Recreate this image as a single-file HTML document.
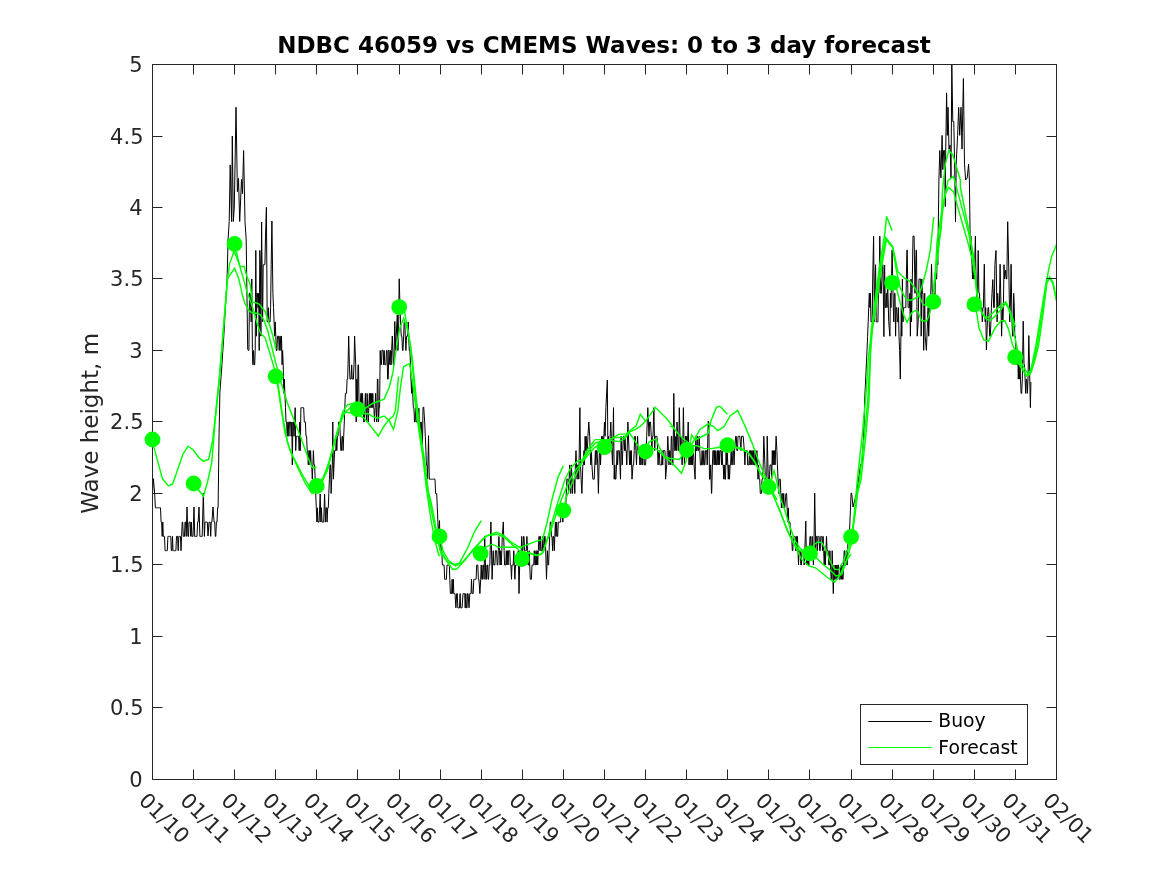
<!DOCTYPE html>
<html><head><meta charset="utf-8"><title>NDBC 46059 vs CMEMS Waves</title>
<style>html,body{margin:0;padding:0;background:#fff;overflow:hidden}svg{display:block;will-change:transform;font-family:"DejaVu Sans","Liberation Sans",sans-serif}</style>
</head><body>
<svg width="1167" height="875" viewBox="0 0 1167 875">
<rect x="0" y="0" width="1167" height="875" fill="#fff"/>
<defs><clipPath id="ax"><rect x="152.5" y="64.5" width="904.0" height="715.0"/></clipPath></defs>
<g clip-path="url(#ax)">
<path d="M152.5 493.5 L153.4 478.7 L154.6 493.0 L155.4 507.8 L155.9 507.8 L156.5 507.8 L157.1 507.8 L157.6 507.8 L158.2 507.8 L158.8 507.8 L159.3 507.8 L159.9 507.8 L160.5 507.8 L161.1 522.1 L161.6 522.1 L162.2 536.4 L162.8 522.1 L163.3 536.4 L163.9 536.4 L164.5 536.4 L165.1 550.7 L165.6 550.7 L166.2 550.7 L166.8 550.7 L167.3 550.7 L167.9 536.4 L168.5 536.4 L169.1 536.4 L169.6 536.4 L170.2 536.4 L170.8 536.4 L171.3 550.7 L171.9 550.7 L172.5 536.4 L173.0 550.7 L173.6 550.7 L174.2 550.7 L174.8 550.7 L175.3 550.7 L175.9 550.7 L176.5 536.4 L177.0 536.4 L177.6 536.4 L178.2 550.7 L178.8 536.4 L179.3 536.4 L179.9 536.4 L180.5 536.4 L181.0 550.7 L181.6 536.4 L182.2 522.1 L182.7 522.1 L183.3 536.4 L183.9 536.4 L184.5 536.4 L185.0 522.1 L185.6 522.1 L186.2 536.4 L187.0 507.0 L187.9 536.4 L188.5 536.4 L189.0 522.1 L189.6 522.1 L190.2 522.1 L190.7 536.4 L191.3 522.1 L191.9 536.4 L192.4 536.4 L193.0 536.4 L194.0 507.0 L194.7 536.4 L195.3 536.4 L195.9 536.4 L196.4 536.4 L197.0 536.4 L197.6 522.1 L198.2 522.1 L199.0 507.0 L199.9 536.4 L200.4 536.4 L201.0 536.4 L201.6 536.4 L202.2 536.4 L203.3 493.0 L204.4 536.4 L205.0 522.1 L205.6 522.1 L206.1 522.1 L206.7 522.1 L207.3 522.1 L208.0 536.0 L209.0 522.1 L209.6 522.1 L210.1 522.1 L210.7 536.4 L211.3 522.1 L211.9 522.1 L213.0 507.0 L214.1 522.1 L214.7 522.1 L215.3 536.4 L215.8 536.4 L216.4 522.1 L217.0 522.1 L217.6 507.8 L218.1 507.8 L219.0 437.0 L219.9 392.5 L222.0 363.7 L224.0 332.9 L225.5 306.0 L227.1 278.0 L228.1 239.0 L229.2 221.5 L230.2 164.9 L231.6 221.5 L232.3 136.1 L233.3 221.5 L234.3 207.1 L236.0 107.3 L237.4 191.7 L238.5 178.5 L239.7 221.5 L241.5 179.3 L242.5 193.7 L243.6 150.5 L245.0 221.5 L246.2 240.0 L247.7 349.3 L248.4 350.5 L248.9 350.5 L249.5 293.3 L250.1 293.3 L250.7 307.6 L251.2 321.9 L251.8 279.0 L252.4 350.5 L252.9 364.8 L253.5 350.5 L254.1 364.8 L254.7 364.8 L255.2 350.5 L255.8 250.4 L256.4 336.2 L256.9 293.3 L257.5 293.3 L258.1 307.6 L258.7 293.3 L259.2 350.5 L259.8 250.4 L260.4 264.7 L260.9 336.2 L261.6 222.0 L262.6 321.9 L263.2 264.7 L263.8 264.7 L264.4 264.7 L264.9 264.7 L265.5 236.1 L266.4 207.3 L267.2 321.9 L267.8 321.9 L268.4 307.6 L268.9 321.9 L269.5 321.9 L270.1 321.9 L270.6 307.6 L271.2 264.7 L271.9 221.0 L272.9 293.3 L273.5 307.6 L274.1 321.9 L274.6 336.2 L275.2 321.9 L275.8 336.2 L276.3 350.5 L276.9 350.5 L277.5 336.2 L278.1 336.2 L278.6 336.2 L279.2 350.5 L279.8 336.2 L280.3 336.2 L280.9 350.5 L281.5 336.2 L282.1 364.8 L282.6 350.5 L283.2 364.8 L283.8 393.4 L284.3 379.1 L284.9 393.4 L285.5 407.7 L286.0 422.0 L286.6 422.0 L287.2 436.3 L287.8 422.0 L288.3 422.0 L288.9 436.3 L289.5 422.0 L290.0 422.0 L290.6 422.0 L291.2 436.3 L291.8 422.0 L292.3 464.9 L292.9 422.0 L293.5 422.0 L294.0 436.3 L294.6 422.0 L295.2 407.7 L295.7 450.6 L296.3 436.3 L296.9 436.3 L297.5 436.3 L298.0 436.3 L298.6 436.3 L299.2 450.6 L299.7 422.0 L300.3 450.6 L300.9 407.7 L301.5 407.7 L302.0 407.7 L302.6 407.7 L303.2 407.7 L303.7 407.7 L304.3 422.0 L304.9 422.0 L305.4 422.0 L306.0 436.3 L306.6 436.3 L307.2 450.6 L307.7 450.6 L308.3 464.9 L308.9 450.6 L309.4 450.6 L310.0 464.9 L310.6 450.6 L311.2 464.9 L311.7 464.9 L312.3 479.2 L312.9 464.9 L313.4 450.6 L314.0 464.9 L314.6 464.9 L315.2 479.2 L315.7 493.5 L316.3 507.8 L316.9 522.1 L317.4 507.8 L318.0 522.1 L318.6 522.1 L319.1 522.1 L320.2 494.0 L320.9 522.1 L321.4 507.8 L322.0 522.1 L322.6 522.1 L323.1 522.1 L323.7 522.1 L324.6 494.0 L325.4 522.1 L326.0 507.8 L326.6 507.8 L327.1 522.1 L327.7 507.8 L328.3 507.8 L328.8 493.5 L329.4 479.2 L330.0 464.9 L330.6 464.9 L331.1 493.5 L331.7 479.2 L332.3 464.9 L332.8 422.0 L333.4 479.2 L334.0 464.9 L334.6 450.6 L335.1 450.6 L335.7 450.6 L336.3 436.3 L336.8 450.6 L337.4 436.3 L338.0 436.3 L338.6 422.0 L339.1 422.0 L339.7 422.0 L340.3 436.3 L340.8 450.6 L341.4 450.6 L342.0 436.3 L342.5 436.3 L343.1 450.6 L343.7 436.3 L344.3 422.0 L344.8 407.7 L345.4 393.4 L346.0 393.4 L346.5 393.4 L347.1 379.1 L347.7 379.1 L348.7 336.0 L349.4 364.8 L350.0 379.1 L350.5 379.1 L351.1 379.1 L351.7 364.8 L352.2 379.1 L352.8 379.1 L353.4 379.1 L354.0 364.8 L354.6 336.0 L355.7 364.8 L356.2 422.0 L356.8 379.1 L357.4 407.7 L358.0 364.8 L358.5 364.8 L359.1 407.7 L359.7 407.7 L360.2 407.7 L360.8 393.4 L361.4 393.4 L361.9 407.7 L362.5 393.4 L363.1 407.7 L363.7 422.0 L364.2 422.0 L364.8 407.7 L365.4 393.4 L365.9 407.7 L366.5 422.0 L367.1 393.4 L367.7 407.7 L368.2 422.0 L368.8 407.7 L369.4 393.4 L369.9 407.7 L370.5 393.4 L371.1 407.7 L371.7 393.4 L372.2 407.7 L372.8 393.4 L373.4 407.7 L373.9 407.7 L374.5 422.0 L375.1 407.7 L375.6 393.4 L376.2 407.7 L376.8 422.0 L377.4 379.1 L377.9 379.1 L378.5 422.0 L379.1 407.7 L379.6 407.7 L380.2 350.5 L380.8 364.8 L381.4 364.8 L382.0 350.0 L383.1 350.5 L383.6 364.8 L384.2 350.5 L384.8 364.8 L385.3 364.8 L385.9 364.8 L386.5 350.5 L387.1 350.5 L387.6 379.1 L388.2 379.1 L388.9 350.0 L389.9 364.8 L390.5 350.5 L391.1 364.8 L391.6 350.5 L392.3 336.0 L393.3 364.8 L393.9 364.8 L394.8 321.5 L395.6 350.5 L396.2 336.2 L397.3 315.0 L397.9 350.5 L398.5 336.2 L399.2 278.8 L400.5 322.8 L401.3 336.2 L401.9 336.2 L402.5 350.5 L403.0 350.5 L403.6 336.2 L404.2 321.9 L404.8 321.9 L405.3 336.2 L405.9 350.5 L406.5 336.2 L407.0 336.2 L407.6 336.2 L408.2 321.9 L408.7 336.2 L409.3 350.5 L409.9 350.5 L410.5 364.8 L411.0 379.1 L411.6 393.4 L412.2 379.1 L412.7 393.4 L413.3 407.7 L413.9 407.7 L414.5 422.0 L415.0 422.0 L415.6 407.7 L416.2 422.0 L416.7 422.0 L417.3 422.0 L417.9 422.0 L418.9 408.2 L419.6 436.3 L420.2 436.3 L420.7 422.0 L421.3 422.0 L421.9 436.3 L422.4 450.6 L423.0 407.7 L423.7 406.9 L424.7 422.0 L425.3 436.3 L425.9 450.6 L426.4 464.9 L427.0 464.9 L427.6 479.2 L428.5 435.7 L429.3 479.2 L429.9 479.2 L430.4 479.2 L431.0 479.2 L431.6 479.2 L432.1 479.2 L432.7 479.2 L433.3 479.2 L434.0 478.9 L435.0 479.2 L435.6 493.5 L436.1 493.5 L436.7 493.5 L437.3 507.8 L437.9 522.1 L438.4 536.4 L439.5 520.6 L440.1 550.7 L440.7 550.7 L441.3 536.4 L441.8 550.7 L442.4 565.0 L443.0 565.0 L443.6 565.0 L444.1 565.0 L444.7 579.3 L445.3 579.3 L445.8 579.3 L446.4 579.3 L447.0 565.0 L447.6 565.0 L448.1 565.0 L448.7 565.0 L449.3 565.0 L449.8 579.3 L450.4 593.6 L451.0 593.6 L451.6 593.6 L452.1 579.3 L452.7 593.6 L453.3 579.3 L453.8 593.6 L454.4 593.6 L455.0 593.6 L455.9 607.8 L456.7 593.6 L457.3 593.6 L457.8 607.9 L458.4 607.9 L459.0 607.9 L459.5 607.9 L460.1 593.6 L460.7 607.9 L461.3 607.9 L462.1 607.8 L463.0 593.6 L463.5 593.6 L464.1 593.6 L464.7 593.6 L465.2 607.9 L465.8 593.6 L466.4 607.9 L467.0 607.9 L467.5 593.6 L468.1 593.6 L469.0 607.8 L469.8 593.6 L470.4 593.6 L471.0 593.6 L471.5 579.3 L472.1 593.6 L472.7 593.6 L473.2 593.6 L473.8 579.3 L474.4 579.3 L474.9 579.3 L475.5 579.3 L476.1 579.3 L476.7 565.0 L477.2 565.0 L477.8 565.0 L478.4 579.3 L478.9 579.3 L479.9 593.5 L480.7 579.3 L481.2 565.0 L481.8 579.3 L482.4 579.3 L482.9 565.0 L483.5 565.0 L484.1 579.3 L484.7 536.3 L485.8 579.3 L486.4 579.3 L486.9 565.0 L487.5 565.0 L488.1 579.3 L488.6 579.3 L489.2 565.0 L489.8 565.0 L490.9 521.9 L492.1 579.3 L492.6 565.0 L493.2 550.7 L493.8 565.0 L494.4 565.0 L494.9 565.0 L495.5 550.7 L496.1 550.7 L496.6 550.7 L497.2 565.0 L497.8 565.0 L498.3 550.7 L498.9 536.4 L499.5 550.7 L500.1 565.0 L500.6 550.7 L501.2 565.0 L501.8 550.7 L502.3 536.4 L503.3 521.9 L504.1 550.7 L504.6 565.0 L505.2 565.0 L505.8 565.0 L506.3 550.7 L506.9 565.0 L507.5 550.7 L508.1 565.0 L508.6 550.7 L509.2 550.7 L509.8 550.7 L510.3 565.0 L510.9 565.0 L511.5 579.3 L512.0 565.0 L512.6 565.0 L513.2 565.0 L513.8 550.7 L514.3 565.0 L514.9 579.3 L515.5 565.0 L516.0 565.0 L516.6 565.0 L517.2 565.0 L517.8 565.0 L518.3 550.7 L519.0 593.5 L520.0 550.7 L520.6 550.7 L521.2 550.7 L521.7 536.4 L522.3 550.7 L522.9 550.7 L523.5 536.4 L524.0 536.4 L524.6 550.7 L525.2 550.7 L525.7 550.7 L526.3 550.7 L526.9 536.4 L527.5 550.7 L528.0 565.0 L528.6 565.0 L529.2 550.7 L529.7 565.0 L530.3 579.3 L530.9 579.3 L531.4 579.3 L532.0 565.0 L532.6 565.0 L533.2 565.0 L533.7 565.0 L534.3 550.7 L534.9 565.0 L535.4 565.0 L536.0 550.7 L536.6 565.0 L537.2 550.7 L537.7 565.0 L538.3 550.7 L538.9 536.4 L539.4 536.4 L540.0 550.7 L540.6 536.4 L541.2 550.7 L541.7 550.7 L542.3 550.7 L542.9 536.4 L543.4 550.7 L544.0 550.7 L544.6 536.4 L545.1 536.4 L545.7 550.7 L546.5 579.3 L547.4 550.7 L548.0 565.0 L548.6 565.0 L549.1 550.7 L549.7 536.4 L550.3 522.1 L550.9 522.1 L551.4 536.4 L552.0 536.4 L552.6 550.7 L553.1 536.4 L553.7 536.4 L554.3 550.7 L554.8 536.4 L555.4 522.1 L556.0 536.4 L556.6 522.1 L557.1 536.4 L557.7 536.4 L558.3 522.1 L558.8 522.1 L559.4 522.1 L560.0 522.1 L560.6 522.1 L561.1 507.8 L561.7 507.8 L562.3 507.8 L562.8 522.1 L563.4 507.8 L564.0 507.8 L564.6 507.8 L565.1 507.8 L565.7 507.8 L566.3 493.5 L566.8 479.2 L567.4 479.2 L568.0 479.2 L568.5 493.5 L569.1 479.2 L569.7 464.9 L570.3 479.2 L570.8 493.5 L571.4 464.9 L572.0 479.2 L572.5 493.5 L573.1 479.2 L573.7 479.2 L574.3 479.2 L574.8 493.5 L575.4 464.9 L576.0 450.6 L576.5 464.9 L577.1 479.2 L577.7 464.9 L578.2 464.9 L578.8 479.2 L579.9 407.7 L580.5 464.9 L581.1 479.2 L581.9 493.4 L582.8 464.9 L583.4 464.9 L584.0 450.6 L584.5 464.9 L585.1 436.3 L585.7 450.6 L586.2 436.3 L586.8 450.6 L587.4 450.6 L587.9 436.3 L588.8 422.0 L589.7 436.3 L590.2 450.6 L590.8 464.9 L591.4 450.6 L591.9 464.9 L592.9 479.2 L593.7 479.2 L594.2 479.2 L594.8 464.9 L595.4 450.6 L595.9 464.9 L596.5 450.6 L597.1 450.6 L597.7 464.9 L598.4 493.4 L599.4 450.6 L599.9 450.6 L600.5 464.9 L601.1 450.6 L601.6 436.3 L602.2 450.6 L602.8 436.3 L603.4 450.6 L603.9 436.3 L604.5 422.0 L605.1 436.3 L605.9 407.7 L607.3 380.0 L607.9 450.6 L608.5 436.3 L609.1 450.6 L609.6 450.6 L610.2 436.3 L610.8 422.0 L611.3 436.3 L611.9 450.6 L612.5 464.9 L613.5 407.7 L614.2 479.2 L614.8 464.9 L615.3 479.2 L615.9 479.2 L616.5 464.9 L617.1 450.6 L617.6 464.9 L618.2 450.6 L618.8 450.6 L619.3 450.6 L619.9 464.9 L620.5 479.2 L621.1 436.3 L621.6 450.6 L622.2 464.9 L622.8 450.6 L623.3 436.3 L623.9 436.3 L624.5 450.6 L625.0 436.3 L625.6 450.6 L626.2 450.6 L626.8 464.9 L627.9 422.0 L629.0 450.6 L629.6 464.9 L630.2 450.6 L630.8 464.9 L631.3 450.6 L632.0 479.2 L633.0 464.9 L633.6 464.9 L634.2 450.6 L634.7 436.3 L635.3 436.3 L635.9 450.6 L636.5 464.9 L637.0 450.6 L637.6 436.3 L638.2 450.6 L638.7 450.6 L639.3 450.6 L639.9 464.9 L640.5 450.6 L641.0 464.9 L641.6 450.6 L642.2 450.6 L642.7 464.9 L643.3 450.6 L643.9 450.6 L644.4 464.9 L645.0 464.9 L645.6 464.9 L646.2 450.6 L646.7 436.3 L647.8 407.7 L648.4 422.0 L649.0 436.3 L649.6 422.0 L650.5 422.0 L651.3 436.3 L651.9 450.6 L652.4 436.3 L653.0 436.3 L653.9 407.7 L654.7 450.6 L655.3 436.3 L655.9 436.3 L656.4 436.3 L657.0 436.3 L657.6 450.6 L658.1 464.9 L658.7 450.6 L659.3 450.6 L659.9 464.9 L660.4 464.9 L661.0 464.9 L661.6 464.9 L662.1 450.6 L662.7 464.9 L663.3 450.6 L663.9 450.6 L664.4 450.6 L665.0 450.6 L665.6 479.2 L666.7 464.9 L667.3 450.6 L667.8 436.3 L668.4 450.6 L669.0 464.9 L669.6 450.6 L670.1 450.6 L670.7 464.9 L671.3 436.3 L671.8 436.3 L672.4 464.9 L673.0 464.9 L673.8 393.4 L674.7 450.6 L675.3 450.6 L675.8 436.3 L676.4 450.6 L677.0 422.0 L677.6 436.3 L678.1 450.6 L678.7 450.6 L679.3 407.7 L680.4 450.6 L681.0 436.3 L681.5 450.6 L682.1 464.9 L682.7 450.6 L683.4 407.7 L684.4 464.9 L685.0 450.6 L685.5 436.3 L686.1 450.6 L686.7 436.3 L687.3 450.6 L688.2 422.0 L689.0 464.9 L689.5 450.6 L690.1 464.9 L690.7 450.6 L691.2 464.9 L691.8 450.6 L692.4 464.9 L693.0 450.6 L693.5 450.6 L694.1 464.9 L695.1 479.2 L695.8 436.3 L696.4 450.6 L697.0 450.6 L697.5 436.3 L698.1 450.6 L698.7 450.6 L699.2 436.3 L699.8 450.6 L700.4 464.9 L700.9 464.9 L701.5 464.9 L702.1 450.6 L702.7 464.9 L703.2 464.9 L703.8 450.6 L704.4 464.9 L704.9 464.9 L705.5 450.6 L706.1 450.6 L706.7 450.6 L707.2 464.9 L708.2 421.1 L708.8 422.0 L709.5 479.2 L710.1 479.2 L710.7 464.9 L711.5 493.4 L711.7 493.4 L712.4 464.9 L712.9 450.6 L713.5 450.6 L714.1 464.9 L714.6 450.6 L715.2 464.9 L715.8 450.6 L716.4 464.9 L716.9 464.9 L717.5 450.6 L718.1 464.9 L718.6 450.6 L719.2 464.9 L719.8 450.6 L720.4 450.6 L720.9 450.6 L721.5 464.9 L722.1 450.6 L722.6 464.9 L723.2 464.9 L723.8 479.2 L724.3 464.9 L724.9 479.2 L725.5 479.2 L726.1 450.6 L726.6 464.9 L727.2 450.6 L727.8 464.9 L728.3 479.2 L728.9 464.9 L729.5 479.2 L730.1 464.9 L730.6 464.9 L731.2 450.6 L731.8 464.9 L732.3 464.9 L732.9 450.6 L733.5 450.6 L734.1 464.9 L734.6 450.6 L735.7 436.2 L736.3 436.3 L736.9 450.6 L737.5 450.6 L738.0 436.3 L738.6 436.3 L739.8 436.2 L740.9 450.6 L741.5 436.3 L742.0 436.3 L743.2 436.2 L744.3 450.6 L744.9 464.9 L745.5 450.6 L746.0 450.6 L746.6 450.6 L747.2 450.6 L747.7 464.9 L748.3 464.9 L748.9 464.9 L749.5 450.6 L750.0 464.9 L750.6 450.6 L751.2 464.9 L751.7 450.6 L752.3 450.6 L752.9 464.9 L753.5 450.6 L754.0 464.9 L754.6 464.9 L755.2 450.6 L755.7 464.9 L756.3 464.9 L756.9 450.6 L757.4 464.9 L758.0 479.2 L758.6 464.9 L759.2 479.2 L759.7 479.2 L760.3 493.4 L761.4 493.5 L762.0 479.2 L762.6 479.2 L763.2 464.9 L763.8 436.2 L764.9 464.9 L765.4 479.2 L766.0 479.2 L766.6 493.5 L767.2 436.2 L768.3 479.2 L768.9 479.2 L769.4 479.2 L770.0 464.9 L770.6 464.9 L771.1 464.9 L771.7 479.2 L772.3 450.6 L772.9 464.9 L773.4 450.6 L774.0 464.9 L774.6 450.6 L775.1 464.9 L776.1 436.2 L776.9 450.6 L777.4 464.9 L778.0 479.2 L778.6 493.5 L779.1 479.2 L779.7 479.2 L780.3 479.2 L780.8 493.5 L781.4 507.8 L782.0 493.5 L782.6 493.5 L783.1 507.8 L783.7 493.5 L784.3 507.8 L784.8 507.8 L785.9 493.7 L786.6 493.5 L787.1 507.8 L787.7 522.1 L788.3 507.8 L788.8 522.1 L789.4 522.1 L790.0 522.1 L790.6 536.4 L791.1 536.4 L791.7 536.4 L792.3 550.7 L792.8 550.7 L793.4 536.4 L794.0 536.4 L794.5 536.4 L795.1 536.4 L795.7 550.7 L796.3 536.4 L796.8 550.7 L797.4 536.4 L798.0 550.7 L798.5 565.0 L799.1 550.7 L799.7 550.7 L800.3 550.7 L800.8 565.0 L801.4 565.0 L802.0 550.7 L802.5 550.7 L803.1 550.7 L803.7 550.7 L804.2 565.0 L804.8 550.7 L805.8 521.1 L806.5 565.0 L807.1 550.7 L807.7 565.0 L808.2 550.7 L808.8 565.0 L809.4 550.7 L810.0 536.4 L810.5 536.4 L811.1 550.7 L811.7 550.7 L812.2 536.4 L812.8 550.7 L813.4 565.0 L813.9 550.7 L814.7 493.0 L815.7 550.7 L816.2 536.4 L816.8 536.4 L817.4 550.7 L817.9 536.4 L818.5 536.4 L819.1 536.4 L819.7 550.7 L820.2 550.7 L820.8 536.4 L821.4 536.4 L821.9 536.4 L822.5 550.7 L823.1 536.4 L823.7 550.7 L824.2 565.0 L824.8 550.7 L825.4 565.0 L825.9 550.7 L826.5 536.4 L827.1 550.7 L827.6 550.7 L828.2 550.7 L828.8 565.0 L829.4 565.0 L829.9 550.7 L830.5 565.0 L831.1 579.3 L831.6 579.3 L832.2 550.7 L833.3 593.6 L833.9 565.0 L834.5 579.3 L835.1 579.3 L835.6 565.0 L836.2 579.3 L836.8 565.0 L837.3 579.3 L837.9 565.0 L838.5 565.0 L839.1 579.3 L839.6 579.3 L840.2 579.3 L840.8 565.0 L841.3 579.3 L841.9 565.0 L842.5 579.3 L843.1 579.3 L843.6 565.0 L844.2 550.7 L844.8 550.7 L845.3 565.0 L845.9 565.0 L846.5 550.7 L847.1 565.0 L847.6 550.7 L848.2 536.4 L848.8 536.4 L849.3 536.4 L849.9 522.1 L850.5 507.8 L851.1 493.0 L851.7 493.3 L853.0 507.0 L856.5 493.3 L858.5 479.5 L860.6 464.5 L861.9 464.5 L863.3 441.1 L864.0 427.4 L864.7 400.0 L867.0 350.5 L867.6 336.2 L868.2 321.9 L868.7 307.6 L869.3 293.3 L869.9 307.6 L870.4 293.3 L871.0 321.9 L871.6 321.9 L872.2 321.9 L872.7 279.0 L873.6 236.2 L874.4 321.9 L875.0 279.0 L875.6 264.7 L876.2 321.9 L876.7 321.9 L877.3 321.9 L877.9 321.9 L878.4 293.3 L879.0 293.3 L879.8 236.2 L880.7 293.3 L881.3 293.3 L881.9 279.0 L882.4 264.7 L883.0 264.7 L883.9 336.6 L884.6 265.0 L885.3 307.6 L885.9 307.6 L886.4 293.3 L887.0 307.6 L887.6 279.0 L888.7 321.5 L889.9 336.2 L890.4 293.3 L891.0 307.6 L892.1 249.9 L893.3 307.6 L893.8 321.9 L894.4 293.3 L895.0 293.3 L895.6 336.2 L896.1 307.6 L896.7 307.6 L897.3 321.9 L897.8 321.9 L898.4 307.6 L899.0 336.2 L899.6 350.5 L900.3 379.1 L901.3 307.6 L901.8 336.2 L902.4 279.0 L903.0 321.9 L903.6 307.6 L904.1 307.6 L904.7 307.6 L905.3 307.6 L905.8 307.6 L906.9 250.5 L907.2 249.9 L908.1 307.6 L908.7 307.6 L909.3 307.6 L909.8 293.3 L910.4 336.2 L911.0 279.0 L911.5 321.9 L912.1 293.3 L913.0 236.1 L914.1 236.2 L915.0 293.3 L916.1 249.9 L916.5 250.5 L917.2 336.2 L918.2 321.5 L919.0 279.0 L919.5 279.0 L920.1 279.0 L920.7 279.0 L921.2 336.2 L921.8 279.0 L922.4 293.3 L923.0 293.3 L923.7 350.3 L924.7 293.3 L925.2 336.2 L926.4 350.3 L927.5 321.9 L928.1 307.6 L928.7 336.2 L929.2 321.9 L929.8 307.6 L930.4 307.6 L931.5 264.2 L932.7 307.6 L933.2 293.3 L933.8 293.3 L934.4 293.3 L934.9 307.6 L935.5 264.7 L936.1 279.0 L936.7 279.0 L937.2 250.4 L937.8 264.7 L938.9 180.0 L939.8 150.5 L940.9 177.9 L942.1 135.4 L942.8 169.7 L943.6 150.5 L944.6 150.5 L945.3 206.6 L945.5 164.2 L946.6 92.9 L947.3 135.4 L948.0 107.3 L949.0 149.1 L950.1 145.0 L951.0 177.9 L951.8 64.5 L952.8 121.7 L953.8 121.7 L954.9 180.0 L955.5 221.7 L956.2 164.2 L957.6 135.4 L958.7 107.3 L959.7 135.4 L961.0 107.3 L962.0 149.1 L963.4 78.5 L964.5 164.2 L965.6 180.0 L967.2 177.9 L968.6 164.2 L969.4 180.0 L970.3 250.4 L970.9 236.1 L971.5 250.4 L972.0 264.7 L972.6 279.0 L973.2 264.7 L973.7 279.0 L974.3 279.0 L975.4 236.1 L976.0 279.0 L976.6 293.3 L977.2 307.6 L978.2 250.5 L978.9 293.3 L979.5 293.3 L980.0 307.6 L980.6 307.6 L981.2 307.6 L981.7 307.6 L982.3 321.9 L982.9 307.6 L983.4 307.6 L984.3 264.2 L985.2 321.9 L985.7 307.6 L986.4 350.0 L987.4 321.9 L988.0 307.6 L988.6 307.6 L989.2 321.9 L989.7 336.2 L990.3 336.2 L990.9 321.9 L991.4 307.6 L992.0 293.3 L992.8 279.6 L993.7 307.6 L994.3 307.6 L994.9 264.7 L996.0 250.5 L997.1 321.9 L997.7 293.3 L998.3 307.6 L998.9 307.6 L999.4 307.6 L1000.1 264.2 L1001.6 336.2 L1002.3 307.6 L1002.9 321.9 L1003.4 307.6 L1004.0 264.7 L1004.6 279.0 L1005.6 270.0 L1006.3 279.0 L1006.8 279.0 L1007.7 221.7 L1008.8 270.0 L1009.7 321.9 L1010.3 307.6 L1011.1 264.2 L1012.0 321.9 L1012.6 336.2 L1013.1 336.2 L1013.7 293.3 L1014.3 307.6 L1014.8 336.2 L1015.4 336.2 L1016.0 350.5 L1016.6 350.5 L1017.1 364.8 L1017.7 350.5 L1018.3 379.1 L1018.8 364.8 L1019.4 379.1 L1020.0 364.8 L1020.5 379.1 L1021.1 393.4 L1021.7 393.4 L1022.3 379.1 L1023.2 321.2 L1024.0 364.8 L1024.5 364.8 L1025.1 379.1 L1025.7 393.4 L1026.3 379.1 L1026.8 379.1 L1027.4 393.4 L1028.0 379.1 L1028.8 335.6 L1030.4 407.6 L1030.9 382.0" stroke="#000" stroke-width="1" fill="none" stroke-linejoin="miter"/>
<path d="M152.5 439.5 L154.1 447.9 L162.4 478.7 L168.5 485.9 L172.7 483.9 L183.0 454.0 L188.1 446.2 L193.2 450.0 L199.4 458.2 L203.5 461.3 L208.7 459.2 L212.8 439.7 L215.9 410.9 L219.0 380.0 L222.5 340.0 L225.0 308.6 L227.3 280.2 L229.6 263.8 L234.1 251.0 L240.1 266.5 L244.2 266.5 L246.9 276.6 L250.1 283.9 L252.5 301.9 L258.8 303.8 L265.1 311.4 L268.9 322.7 L272.7 335.3 L275.8 349.1" stroke="#00ff00" stroke-width="1.45" fill="none"/>
<path d="M193.6 483.5 L198.5 490.0 L203.5 496.2 L207.5 482.0 L211.8 462.3 L215.2 420.0 L219.4 380.0 L223.0 335.0 L225.8 300.0 L227.7 278.4 L234.6 268.3 L238.7 278.4 L242.4 294.8 L244.7 303.0 L248.8 310.4 L252.4 313.1 L257.0 313.3 L260.1 314.5 L263.9 320.2 L267.6 330.2 L271.4 345.3 L275.2 360.4 L277.7 370.5 L280.6 381.0 L287.4 402.9 L294.3 420.8 L301.2 438.6 L308.0 457.8 L312.1 467.4 L316.7 467.4" stroke="#00ff00" stroke-width="1.45" fill="none"/>
<path d="M234.6 244.0 L239.6 265.6 L243.3 278.4 L246.9 291.2 L250.0 300.0 L253.8 311.4 L257.6 325.2 L260.7 333.4 L265.1 337.8 L268.9 350.3 L272.7 362.9 L275.8 374.0 L278.3 385.5 L280.2 400.0 L282.5 415.0 L287.5 442.6 L292.6 456.5 L298.9 470.3 L305.1 482.9 L311.4 492.9 L316.5 487.0 L321.5 482.9 L327.8 469.0 L332.8 447.7 L337.8 430.1 L341.6 420.0 L345.0 412.0 L350.1 412.9 L356.4 414.2 L364.0 418.0 L370.2 425.5 L378.4 436.2 L382.8 428.0 L389.1 419.2 L392.9 416.7 L395.4 410.4 L398.5 376.5" stroke="#00ff00" stroke-width="1.45" fill="none"/>
<path d="M275.8 376.0 L277.8 386.5 L284.7 431.7 L290.2 450.9 L296.0 462.0 L302.0 474.0 L308.0 484.0 L313.0 493.5 L316.9 486.0" stroke="#00ff00" stroke-width="1.45" fill="none"/>
<path d="M316.9 486.0 L322.0 481.0 L327.0 471.0 L333.5 447.0 L338.5 428.0 L342.6 412.0 L347.6 404.7 L352.6 403.5 L357.0 409.0 L364.0 409.0 L372.7 403.5 L384.1 399.1 L389.1 387.8 L392.9 372.7 L395.4 355.0 L399.6 328.6 L403.6 318.3 L407.6 329.7 L410.4 345.7 L413.3 374.3 L415.6 400.0 L419.5 430.5 L423.5 458.0 L427.5 489.0 L430.6 500.0" stroke="#00ff00" stroke-width="1.45" fill="none"/>
<path d="M316.9 484.5 L323.0 478.0 L329.0 462.0 L335.0 440.0 L340.0 423.0 L344.0 413.0 L350.0 408.0 L357.0 409.0 L364.0 414.0 L368.0 413.5 L372.7 416.5 L377.8 418.3 L384.1 416.0 L389.1 420.5 L393.5 429.3 L397.9 410.4 L400.4 387.8 L403.5 367.0 L406.7 364.9 L409.6 363.7 L412.2 380.0 L414.8 400.0 L418.8 430.0 L422.8 457.0 L426.5 489.0 L431.0 520.0 L435.0 541.0 L438.8 555.0 L440.1 556.0" stroke="#00ff00" stroke-width="1.45" fill="none"/>
<path d="M399.6 306.9 L404.7 312.6 L408.7 334.3 L412.1 357.1 L414.4 380.0 L416.4 400.0 L420.2 430.5 L424.2 458.0 L428.0 489.0 L429.2 500.0" stroke="#00ff00" stroke-width="1.45" fill="none"/>
<path d="M430.6 500.0 L434.7 520.6 L438.1 541.1 L441.5 554.9 L448.4 562.4 L453.9 564.5 L459.4 563.1 L467.6 548.0 L474.5 531.5 L481.3 520.6" stroke="#00ff00" stroke-width="1.45" fill="none"/>
<path d="M429.2 500.0 L434.0 523.3 L437.4 539.8 L440.9 550.7 L447.0 561.7 L452.5 569.3 L456.6 569.3 L464.9 560.3 L473.1 549.4 L485.4 536.3 L496.4 532.2 L503.3 535.0 L511.5 542.5 L519.7 547.3 L522.2 548.0" stroke="#00ff00" stroke-width="1.45" fill="none"/>
<path d="M439.5 536.3 L442.9 550.7 L448.4 560.3 L455.3 565.8 L462.1 562.4 L471.7 552.1 L481.3 541.1 L486.8 535.7 L497.8 534.3 L504.6 537.7 L512.9 545.3 L519.7 550.7 L526.6 552.8 L533.4 554.2 L537.5 555.5 L543.0 552.8" stroke="#00ff00" stroke-width="1.45" fill="none"/>
<path d="M543.1 552.8 L549.0 533.1 L554.7 512.6 L559.3 497.7 L565.0 479.4 L570.7 468.0 L577.6 461.1 L582.1 460.0 L588.0 449.0 L595.0 439.6" stroke="#00ff00" stroke-width="1.45" fill="none"/>
<path d="M480.6 553.5 L486.8 546.6 L492.3 544.2 L499.1 547.3 L512.9 547.3 L522.5 546.6 L529.3 543.9 L536.2 541.1 L542.3 539.8" stroke="#00ff00" stroke-width="1.45" fill="none"/>
<path d="M542.4 539.8 L546.7 524.0 L552.4 497.7 L558.1 477.1 L563.3 465.7" stroke="#00ff00" stroke-width="1.45" fill="none"/>
<path d="M521.8 559.0 L527.9 552.1 L536.2 555.5 L541.7 554.2" stroke="#00ff00" stroke-width="1.45" fill="none"/>
<path d="M541.7 554.2 L550.1 533.1 L555.9 514.9 L561.6 498.9 L568.4 482.9 L575.3 470.3 L581.0 463.4 L588.0 452.0 L595.0 443.0" stroke="#00ff00" stroke-width="1.45" fill="none"/>
<path d="M563.9 510.3 L566.1 497.7 L570.7 486.3 L576.4 473.7 L582.1 462.3 L589.0 454.0 L595.0 447.1" stroke="#00ff00" stroke-width="1.45" fill="none"/>
<path d="M595.0 439.6 L601.9 439.6 L608.7 440.3 L619.0 434.1 L625.9 434.1 L630.7 430.0 L636.1 425.9 L640.3 414.2 L645.7 421.4" stroke="#00ff00" stroke-width="1.45" fill="none"/>
<path d="M595.0 443.0 L608.7 439.6 L615.6 437.5 L623.8 437.5 L630.7 431.3 L635.5 429.3 L640.3 426.5 L645.7 421.1 L655.3 407.3 L667.0 419.0 L675.0 429.3" stroke="#00ff00" stroke-width="1.45" fill="none"/>
<path d="M595.0 447.1 L608.7 440.3 L619.0 441.6 L624.5 438.9 L629.3 432.7 L633.4 438.9 L638.9 447.1 L645.7 449.9" stroke="#00ff00" stroke-width="1.45" fill="none"/>
<path d="M645.7 451.3 L649.1 441.7 L656.0 439.0 L658.7 445.8 L664.2 456.8 L669.7 458.2 L679.3 459.5 L686.9 449.9" stroke="#00ff00" stroke-width="1.45" fill="none"/>
<path d="M646.4 452.7 L650.5 448.6 L656.0 448.6 L664.2 456.8 L669.7 460.9 L676.6 467.8 L681.4 473.3 L686.2 460.9 L691.7 434.9 L695.1 440.3 L697.1 439.0 L708.1 433.5 L710.9 421.1 L716.3 407.4 L720.0 406.1" stroke="#00ff00" stroke-width="1.45" fill="none"/>
<path d="M669.7 426.6 L672.5 426.6 L679.3 434.9 L683.4 439.0 L688.9 443.1 L691.7 444.5 L699.9 429.4 L708.1 423.9 L713.6 426.6 L717.7 430.7 L720.0 429.4" stroke="#00ff00" stroke-width="1.45" fill="none"/>
<path d="M686.9 449.9 L691.7 445.8 L697.1 445.8 L704.0 448.6 L710.9 448.6 L720.0 447.2" stroke="#00ff00" stroke-width="1.45" fill="none"/>
<path d="M720.0 406.7 L720.6 406.7 L727.4 414.3" stroke="#00ff00" stroke-width="1.45" fill="none"/>
<path d="M720.0 429.4 L724.0 426.6 L730.2 415.7 L737.7 410.4 L745.3 426.6 L752.1 443.1 L757.6 458.2 L763.1 471.9 L768.6 482.9 L774.1 495.2 L776.8 500.0" stroke="#00ff00" stroke-width="1.45" fill="none"/>
<path d="M720.0 448.6 L727.4 445.1 L735.7 447.2 L741.1 447.9 L748.0 452.7 L754.9 462.3 L761.7 474.6 L768.6 485.6" stroke="#00ff00" stroke-width="1.45" fill="none"/>
<path d="M727.4 445.1 L732.9 446.5 L741.1 449.3 L748.0 452.0 L754.9 461.6 L760.3 473.3 L765.8 480.8 L771.3 489.7 L776.8 500.0" stroke="#00ff00" stroke-width="1.45" fill="none"/>
<path d="M768.6 485.6 L771.3 478.7 L774.1 470.5 L776.8 481.5 L780.9 500.0" stroke="#00ff00" stroke-width="1.45" fill="none"/>
<path d="M768.8 486.9 L772.9 495.1 L779.8 510.2 L785.3 525.3 L792.1 540.3 L799.0 549.9 L805.8 554.1 L809.9 553.4" stroke="#00ff00" stroke-width="1.45" fill="none"/>
<path d="M776.8 503.3 L781.1 514.3 L788.0 532.1 L794.9 545.8 L801.7 559.5 L808.6 565.7 L815.4 567.8 L822.3 573.3 L829.1 578.7 L834.6 582.2 L840.1 574.6 L847.0 559.5 L851.1 554.1" stroke="#00ff00" stroke-width="1.45" fill="none"/>
<path d="M780.9 500.0 L783.9 507.4 L789.4 525.3 L794.9 540.3 L800.3 548.6 L805.8 552.7 L809.9 551.3 L814.1 544.5 L818.2 541.7 L822.3 543.1 L826.4 551.3 L830.5 562.3 L834.6 569.1 L838.7 569.8 L842.9 562.3 L848.3 548.6 L852.5 532.1 L854.9 507.4 L857.3 480.0" stroke="#00ff00" stroke-width="1.45" fill="none"/>
<path d="M809.9 553.4 L816.8 558.2 L822.3 563.7 L829.1 569.1 L836.0 576.0 L841.5 574.6 L845.6 563.7 L851.1 544.5 L854.1 521.1 L857.3 493.7 L859.6 480.0" stroke="#00ff00" stroke-width="1.45" fill="none"/>
<path d="M851.1 536.9 L854.9 514.3 L857.9 491.0 L861.0 480.0" stroke="#00ff00" stroke-width="1.45" fill="none"/>
<path d="M857.3 480.0 L862.3 434.3 L865.5 400.0 L868.3 358.6 L871.6 331.2 L875.0 300.4 L880.1 262.7 L885.1 231.3 L886.6 216.4 L892.1 230.8" stroke="#00ff00" stroke-width="1.45" fill="none"/>
<path d="M859.6 480.0 L864.5 434.0 L867.8 400.0 L870.4 351.7 L872.5 329.3 L877.5 295.4 L882.0 265.0 L886.3 240.1 L892.6 247.6 L896.4 270.3 L900.2 287.9 L903.9 295.4 L907.7 300.4 L912.7 299.8 L917.8 296.7 L921.5 287.9 L926.6 269.0 L930.3 250.1 L932.9 225.0 L933.7 217.0" stroke="#00ff00" stroke-width="1.45" fill="none"/>
<path d="M861.0 480.0 L866.0 434.0 L869.0 400.0 L870.5 355.0 L871.3 330.6 L876.3 297.9 L881.3 262.7 L885.7 237.6 L892.6 246.4 L895.1 257.7 L897.7 271.5 L903.9 277.8 L910.2 281.6 L914.0 286.6 L917.8 292.9 L922.8 304.2 L925.9 305.5 L929.1 303.6 L932.9 301.7 L933.5 290.0 L935.5 270.0 L937.0 242.3 L941.2 214.9 L945.3 194.3 L948.7 187.4 L953.5 191.6 L957.6 206.6 L963.1 225.8 L968.6 245.0 L972.7 261.5 L974.4 275.0" stroke="#00ff00" stroke-width="1.45" fill="none"/>
<path d="M892.0 282.8 L896.4 287.9 L900.2 302.9 L903.9 315.5 L907.1 322.4 L911.5 313.0 L915.3 310.5 L917.8 311.7 L921.5 320.5 L926.6 321.2 L929.1 315.5 L931.6 305.5 L933.3 295.0 L935.0 280.0 L939.8 235.4 L944.0 200.0 L948.0 180.6 L953.5 176.5 L957.6 191.6 L963.1 212.1 L968.6 232.7 L972.7 253.3 L974.8 269.7 L975.6 280.0 L976.8 290.0 L978.5 303.0 L981.0 311.1 L985.1 316.6 L988.5 317.2 L993.3 312.4 L998.8 306.9 L1005.7 301.8 L1008.4 307.0 L1012.5 317.9 L1015.5 327.0" stroke="#00ff00" stroke-width="1.45" fill="none"/>
<path d="M932.9 301.7 L934.5 280.0 L937.0 262.0 L939.5 240.0 L941.2 228.6 L942.5 190.0 L945.3 164.3 L948.7 150.5 L952.8 154.7 L955.6 164.3 L960.4 180.0 L960.4 187.4 L965.8 214.9 L970.0 235.4 L973.4 256.0 L975.4 280.0 L977.5 300.0 L982.3 313.8 L986.5 319.3 L989.9 320.5 L994.7 316.6 L1000.2 310.4 L1005.7 303.2 L1008.6 309.0 L1012.8 322.0 L1013.6 330.8 L1016.8 346.8 L1020.0 359.6 L1024.8 369.2 L1028.5 374.5 L1031.5 367.0 L1036.0 345.0 L1040.6 316.0 L1046.1 283.0 L1048.8 269.0 L1051.6 256.6 L1056.4 244.9 L1060.0 240.0" stroke="#00ff00" stroke-width="1.45" fill="none"/>
<path d="M974.4 304.4 L976.9 313.8 L978.9 327.5 L983.7 339.9 L988.5 341.2 L995.4 327.5 L1000.9 320.7 L1005.0 320.7 L1008.4 328.9 L1012.5 344.7 L1018.4 358.0 L1022.0 368.0 L1026.4 376.0 L1030.0 374.5 L1033.8 361.0 L1037.2 345.0 L1042.3 312.0 L1046.2 284.0 L1049.5 277.8 L1052.9 283.5 L1056.4 300.4 L1060.0 312.0" stroke="#00ff00" stroke-width="1.45" fill="none"/>
<path d="M1015.2 357.2 L1020.0 366.0 L1026.4 375.6 L1031.2 372.0 L1035.0 360.0 L1038.6 345.0 L1043.6 310.0 L1046.9 283.0 L1049.7 277.1 L1053.0 282.6 L1056.4 299.5 L1060.0 311.0" stroke="#00ff00" stroke-width="1.45" fill="none"/>
</g>
<path d="M152.5 779.5V769.5M152.5 64.5V74.5M193.5 779.5V769.5M193.5 64.5V74.5M234.5 779.5V769.5M234.5 64.5V74.5M275.5 779.5V769.5M275.5 64.5V74.5M316.5 779.5V769.5M316.5 64.5V74.5M357.5 779.5V769.5M357.5 64.5V74.5M399.5 779.5V769.5M399.5 64.5V74.5M440.5 779.5V769.5M440.5 64.5V74.5M481.5 779.5V769.5M481.5 64.5V74.5M522.5 779.5V769.5M522.5 64.5V74.5M563.5 779.5V769.5M563.5 64.5V74.5M604.5 779.5V769.5M604.5 64.5V74.5M645.5 779.5V769.5M645.5 64.5V74.5M686.5 779.5V769.5M686.5 64.5V74.5M727.5 779.5V769.5M727.5 64.5V74.5M768.5 779.5V769.5M768.5 64.5V74.5M809.5 779.5V769.5M809.5 64.5V74.5M851.5 779.5V769.5M851.5 64.5V74.5M892.5 779.5V769.5M892.5 64.5V74.5M933.5 779.5V769.5M933.5 64.5V74.5M974.5 779.5V769.5M974.5 64.5V74.5M1015.5 779.5V769.5M1015.5 64.5V74.5M1056.5 779.5V769.5M1056.5 64.5V74.5M152.5 779.5H162.5M1056.5 779.5H1046.5M152.5 707.5H162.5M1056.5 707.5H1046.5M152.5 636.5H162.5M1056.5 636.5H1046.5M152.5 564.5H162.5M1056.5 564.5H1046.5M152.5 493.5H162.5M1056.5 493.5H1046.5M152.5 421.5H162.5M1056.5 421.5H1046.5M152.5 350.5H162.5M1056.5 350.5H1046.5M152.5 278.5H162.5M1056.5 278.5H1046.5M152.5 207.5H162.5M1056.5 207.5H1046.5M152.5 136.5H162.5M1056.5 136.5H1046.5M152.5 64.5H162.5M1056.5 64.5H1046.5" stroke="#262626" stroke-width="1" fill="none"/>
<rect x="152.5" y="64.5" width="904.0" height="715.0" stroke="#262626" stroke-width="1" fill="none"/>
<g fill="#00ff00"><circle cx="152.5" cy="439.5" r="7.9"/><circle cx="193.6" cy="483.5" r="7.9"/><circle cx="234.6" cy="244.0" r="7.9"/><circle cx="275.6" cy="376.3" r="7.9"/><circle cx="316.7" cy="486.0" r="7.9"/><circle cx="357.4" cy="409.1" r="7.9"/><circle cx="399.2" cy="307.1" r="7.9"/><circle cx="439.5" cy="536.4" r="7.9"/><circle cx="480.6" cy="553.5" r="7.9"/><circle cx="521.8" cy="559.0" r="7.9"/><circle cx="563.4" cy="510.3" r="7.9"/><circle cx="604.5" cy="447.2" r="7.9"/><circle cx="645.6" cy="451.3" r="7.9"/><circle cx="686.7" cy="450.0" r="7.9"/><circle cx="727.4" cy="445.2" r="7.9"/><circle cx="768.6" cy="487.0" r="7.9"/><circle cx="810.0" cy="553.4" r="7.9"/><circle cx="851.1" cy="536.9" r="7.9"/><circle cx="892.1" cy="282.9" r="7.9"/><circle cx="933.3" cy="301.7" r="7.9"/><circle cx="974.4" cy="304.4" r="7.9"/><circle cx="1015.2" cy="357.2" r="7.9"/></g>
<text x="142.7" y="787.0" text-anchor="end" font-size="21" fill="#262626">0</text>
<text x="143.5" y="715.0" text-anchor="end" font-size="21" fill="#262626">0.5</text>
<text x="142.7" y="644.0" text-anchor="end" font-size="21" fill="#262626">1</text>
<text x="143.5" y="572.0" text-anchor="end" font-size="21" fill="#262626">1.5</text>
<text x="142.7" y="501.0" text-anchor="end" font-size="21" fill="#262626">2</text>
<text x="143.5" y="429.0" text-anchor="end" font-size="21" fill="#262626">2.5</text>
<text x="142.7" y="358.0" text-anchor="end" font-size="21" fill="#262626">3</text>
<text x="143.5" y="286.0" text-anchor="end" font-size="21" fill="#262626">3.5</text>
<text x="142.7" y="215.0" text-anchor="end" font-size="21" fill="#262626">4</text>
<text x="143.5" y="144.0" text-anchor="end" font-size="21" fill="#262626">4.5</text>
<text x="142.7" y="72.0" text-anchor="end" font-size="21" fill="#262626">5</text>
<text transform="translate(148.6 791.1) rotate(45)" font-size="21" fill="#262626" dominant-baseline="hanging">01/10</text>
<text transform="translate(189.7 791.1) rotate(45)" font-size="21" fill="#262626" dominant-baseline="hanging">01/11</text>
<text transform="translate(230.8 791.1) rotate(45)" font-size="21" fill="#262626" dominant-baseline="hanging">01/12</text>
<text transform="translate(271.9 791.1) rotate(45)" font-size="21" fill="#262626" dominant-baseline="hanging">01/13</text>
<text transform="translate(313.0 791.1) rotate(45)" font-size="21" fill="#262626" dominant-baseline="hanging">01/14</text>
<text transform="translate(354.1 791.1) rotate(45)" font-size="21" fill="#262626" dominant-baseline="hanging">01/15</text>
<text transform="translate(395.1 791.1) rotate(45)" font-size="21" fill="#262626" dominant-baseline="hanging">01/16</text>
<text transform="translate(436.2 791.1) rotate(45)" font-size="21" fill="#262626" dominant-baseline="hanging">01/17</text>
<text transform="translate(477.3 791.1) rotate(45)" font-size="21" fill="#262626" dominant-baseline="hanging">01/18</text>
<text transform="translate(518.4 791.1) rotate(45)" font-size="21" fill="#262626" dominant-baseline="hanging">01/19</text>
<text transform="translate(559.5 791.1) rotate(45)" font-size="21" fill="#262626" dominant-baseline="hanging">01/20</text>
<text transform="translate(600.6 791.1) rotate(45)" font-size="21" fill="#262626" dominant-baseline="hanging">01/21</text>
<text transform="translate(641.7 791.1) rotate(45)" font-size="21" fill="#262626" dominant-baseline="hanging">01/22</text>
<text transform="translate(682.8 791.1) rotate(45)" font-size="21" fill="#262626" dominant-baseline="hanging">01/23</text>
<text transform="translate(723.9 791.1) rotate(45)" font-size="21" fill="#262626" dominant-baseline="hanging">01/24</text>
<text transform="translate(765.0 791.1) rotate(45)" font-size="21" fill="#262626" dominant-baseline="hanging">01/25</text>
<text transform="translate(806.1 791.1) rotate(45)" font-size="21" fill="#262626" dominant-baseline="hanging">01/26</text>
<text transform="translate(847.1 791.1) rotate(45)" font-size="21" fill="#262626" dominant-baseline="hanging">01/27</text>
<text transform="translate(888.2 791.1) rotate(45)" font-size="21" fill="#262626" dominant-baseline="hanging">01/28</text>
<text transform="translate(929.3 791.1) rotate(45)" font-size="21" fill="#262626" dominant-baseline="hanging">01/29</text>
<text transform="translate(970.4 791.1) rotate(45)" font-size="21" fill="#262626" dominant-baseline="hanging">01/30</text>
<text transform="translate(1011.5 791.1) rotate(45)" font-size="21" fill="#262626" dominant-baseline="hanging">01/31</text>
<text transform="translate(1052.6 791.1) rotate(45)" font-size="21" fill="#262626" dominant-baseline="hanging">02/01</text>
<text x="604" y="53" text-anchor="middle" font-size="23" font-weight="bold" fill="#000">NDBC 46059 vs CMEMS Waves: 0 to 3 day forecast</text>
<text transform="translate(98 423.3) rotate(-90)" text-anchor="middle" font-size="23" fill="#262626">Wave height, m</text>
<rect x="860.5" y="704.5" width="167" height="60" fill="#fff" stroke="#262626" stroke-width="1"/>
<path d="M868.3 721.5H931.8" stroke="#000" stroke-width="1"/>
<path d="M868.3 747.5H931.8" stroke="#00ff00" stroke-width="1"/>
<text x="938.3" y="727.2" font-size="18.75" fill="#000">Buoy</text>
<text x="938.3" y="754.2" font-size="18.75" fill="#000">Forecast</text>
</svg>
</body></html>
